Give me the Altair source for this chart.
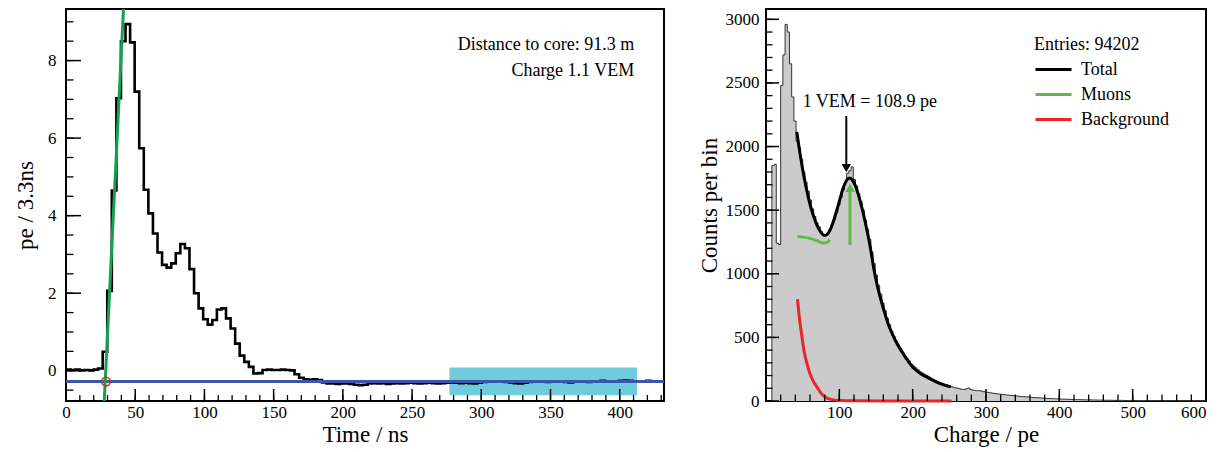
import altair as alt
import pandas as pd

FONT = "Liberation Serif"

# ---------------- left panel: PMT trace ----------------
trace_start = 0.1     # ns, first bin edge
trace_bin = 3.3       # ns per bin
trace_values = [
    0.03, 0.02, 0.03, 0.01, 0.02, 0.01, 0.03, 0.06,
    0.49, 2.06, 4.65, 7.03, 8.50, 8.94, 8.47, 7.20, 5.74, 4.67,
    4.06, 3.54, 3.05, 2.73, 2.66, 2.77, 3.03, 3.27, 3.16, 2.62,
    2.00, 1.61, 1.33, 1.19, 1.31, 1.58, 1.61, 1.35, 1.09, 0.70,
    0.39, 0.23, 0.10, -0.07, -0.06,
    0.02, 0.03, 0.02, 0.02, 0.03, 0.02, 0.01,
    -0.09, -0.18, -0.22, -0.23, -0.22, -0.24, -0.30,
    -0.33, -0.33, -0.34, -0.33, -0.33, -0.34, -0.36, -0.37, -0.36,
    -0.33, -0.32, -0.33, -0.32, -0.34, -0.33, -0.32, -0.33, -0.32, -0.31,
    -0.32, -0.33, -0.32, -0.31, -0.32,
    -0.33, -0.32, -0.31, -0.30, -0.31, -0.32, -0.31, -0.32, -0.33, -0.31,
    -0.29, -0.28, -0.27, -0.28, -0.27, -0.29, -0.30, -0.32, -0.33, -0.31,
    -0.29, -0.28, -0.27, -0.28, -0.29, -0.28, -0.27, -0.28, -0.29, -0.30,
    -0.28, -0.27, -0.28, -0.29, -0.28, -0.27, -0.26, -0.27, -0.28, -0.27,
    -0.26, -0.25, -0.26, -0.27, -0.28, -0.27, -0.26, -0.27, -0.28, -0.27,
]
baseline_value = [-0.28]
rise_t = [27.6, 41.6]
rise_v = [-0.80, 9.39]
start_t = [28.9]
start_v = [-0.28]
window_t = [277.0, 412.5]
window_v = [-0.63, 0.085]
left_text = ["Distance to core: 91.3 m", "Charge 1.1 VEM"]
left_text_t = [410.5, 410.5]
left_text_v = [8.41, 7.72]
left_x_labels = [0, 50, 100, 150, 200, 250, 300, 350, 400]
left_x_minor = [v for v in range(10, 432, 10)]
left_y_labels = [0, 2, 4, 6, 8]
left_y_minor = [v / 2 for v in range(-1, 19)]

# ---------------- right panel: charge histogram ----------------
hist_start = 8.0
hist_bin = 3.0
hist_counts = [
    1850, 1860, 1240, 1230, 2480, 2720, 2960, 2900, 2650, 2390,
    2200, 2040, 1990, 1900, 1800, 1720, 1650, 1580, 1510, 1450,
    1400, 1370, 1330, 1300, 1300, 1320, 1350, 1390, 1430, 1480,
    1540, 1600, 1660, 1720, 1790, 1810, 1840, 1740, 1690, 1630,
    1570, 1500, 1420, 1350, 1270, 1170, 1080, 990, 910, 840,
    770, 710, 650, 600, 550, 510, 470, 440, 410, 385,
    355, 335, 315, 290, 275, 260, 245, 230, 220, 210,
    200, 190, 178, 170, 160, 152, 145, 138, 130, 125,
    118, 113, 108, 104, 100, 96, 92, 90, 96, 102,
    90, 86, 83, 81, 80, 78, 73, 70, 67, 64,
    61, 59, 56, 54, 52, 50, 48, 46, 44, 43,
    41, 39, 37, 35, 34, 32, 33, 30, 28, 27,
    26, 25, 24, 22, 21, 20, 19, 19, 18, 17,
    16, 15, 15, 14, 13, 13, 12, 12, 11, 11,
    10, 10, 9, 9, 9, 8, 8, 8, 7, 7,
    7, 6, 6, 6, 6, 5, 5, 5, 5, 5,
    4, 4, 4, 4, 4, 4, 3, 3, 3, 3,
    3, 3, 3, 3, 2, 2, 2, 2, 2, 2,
    2, 2, 2, 2, 2, 1, 1, 1, 1, 1,
    1, 1, 1, 1, 1, 1, 1,
]
total_pe = [42, 46, 50, 55, 60, 65, 70, 75, 80, 85, 90, 95, 100, 105, 110, 114,
            118, 122, 127, 132, 137, 142, 147, 152, 157, 162, 167, 172, 177,
            185, 193, 202, 212, 222, 232, 242, 252]
total_n = [2115, 1960, 1820, 1670, 1545, 1450, 1375, 1325, 1300, 1320, 1380,
           1470, 1570, 1670, 1735, 1752, 1735, 1690, 1600, 1490, 1360, 1215,
           1040, 900, 790, 690, 600, 530, 470, 390, 320, 255, 210, 180, 150,
           128, 112]
muon_pe = [43, 50, 60, 70, 78, 83, 87]
muon_n = [1292, 1288, 1278, 1258, 1242, 1245, 1268]
bkg_pe = [43, 45, 48, 52, 56, 60, 65, 70, 76, 82, 90, 100, 120, 160, 200, 253]
bkg_n = [800, 680, 545, 390, 290, 215, 150, 105, 55, 26, 11, 4, 1, 0, 0, 0]
series_names = ["Total", "Muons", "Background"]
series_colors = ["#000000", "#5DBB46", "#E8262A"]
vem_label = "1 VEM = 108.9 pe"
vem_label_pos = [50, 2350]
vem_arrow_x = [109.5]
vem_arrow_y = [2240, 1850]
vem_head_y = [1830]
muon_arrow_x = [114.5]
muon_arrow_y = [1226, 1660]
muon_head_y = [1675]
right_x_labels = [100, 200, 300, 400, 500, 600]
right_x_minor = [v for v in range(20, 600, 20)]
right_y_labels = [0, 500, 1000, 1500, 2000, 2500, 3000]
right_y_minor = [v for v in range(100, 3081, 100)]

H = 392
W1 = 598
W2 = 440

# ================= left panel =================
xs1 = alt.Scale(domain=[0, 432], nice=False, zero=False)
ys1 = alt.Scale(domain=[-0.78, 9.33], nice=False, zero=False)
X1 = alt.X("x:Q", scale=xs1, axis=alt.Axis(values=left_x_labels, title="Time / ns",
                                          labelPadding=3, titlePadding=3))
Y1 = alt.Y("y:Q", scale=ys1, axis=alt.Axis(values=left_y_labels, title="pe / 3.3ns",
                                          labelPadding=10, titlePadding=10))

n = len(trace_values)
trace_df = pd.DataFrame({
    "x": [trace_start + trace_bin * k for k in range(n)] + [trace_start + trace_bin * n],
    "y": trace_values + [trace_values[-1]],
})
window = alt.Chart(pd.DataFrame({"x": [window_t[0]], "x2": [window_t[1]],
                                 "y": [window_v[0]], "y2": [window_v[1]]})).mark_rect(
    color="#6ECCDD").encode(x=X1, x2="x2:Q", y=Y1, y2="y2:Q")
trace = alt.Chart(trace_df).mark_line(interpolate="step-after", color="black",
                                      strokeWidth=2.6, clip=True).encode(x=X1, y=Y1)
base = alt.Chart(pd.DataFrame({"y": baseline_value})).mark_rule(
    color="#3A56A8", strokeWidth=3).encode(y=Y1)
rise = alt.Chart(pd.DataFrame({"x": rise_t, "y": rise_v})).mark_line(
    color="#17A050", strokeWidth=3, clip=True).encode(x=X1, y=Y1)
start = alt.Chart(pd.DataFrame({"x": start_t, "y": start_v})).mark_point(
    shape="circle", filled=False, color="#E8262A", size=75, strokeWidth=1.6,
    opacity=1).encode(x=X1, y=Y1)
ltext = alt.Chart(pd.DataFrame({"x": left_text_t, "y": left_text_v, "t": left_text})).mark_text(
    align="right", baseline="middle", font=FONT, fontSize=18, color="black").encode(
    x=X1, y=Y1, text="t:N")
lxt_major = alt.Chart(pd.DataFrame({"x": left_x_labels})).mark_rule(
    color="black", strokeWidth=1.5).encode(x=X1, y=alt.value(H), y2=alt.value(H - 12))
lxt_minor = alt.Chart(pd.DataFrame({"x": left_x_minor})).mark_rule(
    color="black", strokeWidth=1.3).encode(x=X1, y=alt.value(H), y2=alt.value(H - 6))
lyt_major = alt.Chart(pd.DataFrame({"y": left_y_labels})).mark_rule(
    color="black", strokeWidth=1.5).encode(y=Y1, x=alt.value(0), x2=alt.value(15))
lyt_minor = alt.Chart(pd.DataFrame({"y": left_y_minor})).mark_rule(
    color="black", strokeWidth=1.3).encode(y=Y1, x=alt.value(0), x2=alt.value(7.5))

left = alt.layer(window, trace, base, rise, start, ltext,
                 lxt_major, lxt_minor, lyt_major, lyt_minor).properties(width=W1, height=H)

# ================= right panel =================
xs2 = alt.Scale(domain=[0, 600], nice=False, zero=False)
ys2 = alt.Scale(domain=[0, 3081], nice=False, zero=False)
X2 = alt.X("x:Q", scale=xs2, axis=alt.Axis(values=right_x_labels, title="Charge / pe",
                                          labelPadding=3, titlePadding=3, labelFlush=True))
Y2 = alt.Y("y:Q", scale=ys2, axis=alt.Axis(values=right_y_labels, title="Counts per bin",
                                          format="d", labelPadding=7, titlePadding=4))

m = len(hist_counts)
hx = [hist_start] + [hist_start + hist_bin * k for k in range(m)] + [hist_start + hist_bin * m] * 2
hy = [0] + hist_counts + [hist_counts[-1], 0]
hist_df = pd.DataFrame({"x": hx, "y": hy})
hist_fill = alt.Chart(hist_df).mark_area(interpolate="step-after", color="#CBCBCB").encode(x=X2, y=Y2)
hist_line = alt.Chart(hist_df).mark_line(interpolate="step-after", color="#333333",
                                         strokeWidth=1).encode(x=X2, y=Y2)

curves_df = pd.concat([
    pd.DataFrame({"x": total_pe, "y": total_n, "s": series_names[0]}),
    pd.DataFrame({"x": muon_pe, "y": muon_n, "s": series_names[1]}),
    pd.DataFrame({"x": bkg_pe, "y": bkg_n, "s": series_names[2]}),
])
curves = alt.Chart(curves_df).mark_line(interpolate="monotone", strokeWidth=3).encode(
    x=X2, y=Y2,
    color=alt.Color("s:N", scale=alt.Scale(domain=series_names, range=series_colors),
                    legend=alt.Legend(title="Entries: 94202", orient="none", legendX=968,
                                      legendY=26.5, symbolType="stroke", symbolSize=1296,
                                      symbolStrokeWidth=3, labelFont=FONT, labelFontSize=18,
                                      titleFont=FONT, titleFontSize=18, titleFontWeight="normal",
                                      labelColor="black", titleColor="black", padding=0,
                                      rowPadding=0, clipHeight=25, labelOffset=8,
                                      titlePadding=3.5)),
)

varrow = alt.Chart(pd.DataFrame({"x": vem_arrow_x, "y": [vem_arrow_y[0]], "y2": [vem_arrow_y[1]]})).mark_rule(
    color="black", strokeWidth=2).encode(x=X2, y=Y2, y2="y2:Q")
vhead = alt.Chart(pd.DataFrame({"x": vem_arrow_x, "y": vem_head_y})).mark_point(
    shape="triangle-down", filled=True, color="black", size=90, opacity=1).encode(x=X2, y=Y2)
marrow = alt.Chart(pd.DataFrame({"x": muon_arrow_x, "y": [muon_arrow_y[0]], "y2": [muon_arrow_y[1]]})).mark_rule(
    color="#5DBB46", strokeWidth=3).encode(x=X2, y=Y2, y2="y2:Q")
mhead = alt.Chart(pd.DataFrame({"x": muon_arrow_x, "y": muon_head_y})).mark_point(
    shape="triangle-up", filled=True, color="#5DBB46", size=90, opacity=1).encode(x=X2, y=Y2)
rtext = alt.Chart(pd.DataFrame({"x": [vem_label_pos[0]], "y": [vem_label_pos[1]], "t": [vem_label]})).mark_text(
    align="left", baseline="middle", font=FONT, fontSize=18, color="black").encode(x=X2, y=Y2, text="t:N")

rxt_major = alt.Chart(pd.DataFrame({"x": right_x_labels})).mark_rule(
    color="black", strokeWidth=1.5).encode(x=X2, y=alt.value(H), y2=alt.value(H - 12))
rxt_minor = alt.Chart(pd.DataFrame({"x": right_x_minor})).mark_rule(
    color="black", strokeWidth=1.3).encode(x=X2, y=alt.value(H), y2=alt.value(H - 6.5))
ryt_major = alt.Chart(pd.DataFrame({"y": right_y_labels})).mark_rule(
    color="black", strokeWidth=1.5).encode(y=Y2, x=alt.value(0), x2=alt.value(13))
ryt_minor = alt.Chart(pd.DataFrame({"y": right_y_minor})).mark_rule(
    color="black", strokeWidth=1.3).encode(y=Y2, x=alt.value(0), x2=alt.value(6.5))

right = alt.layer(hist_fill, hist_line, curves, varrow, vhead, marrow, mhead, rtext,
                  rxt_major, rxt_minor, ryt_major, ryt_minor).properties(width=W2, height=H)

chart = alt.hconcat(left, right, spacing=30).properties(
    padding={"left": 5, "top": 0, "right": 2, "bottom": 2}
).configure_view(stroke="black", strokeWidth=2).configure_axis(
    grid=False, ticks=False, domain=False, labelFont=FONT, titleFont=FONT,
    labelFontSize=17, titleFontSize=23, titleFontWeight="normal",
    labelColor="black", titleColor="black", labelFlush=False,
)

chart.save("out.html", embed_options={"renderer": "svg", "actions": False})
